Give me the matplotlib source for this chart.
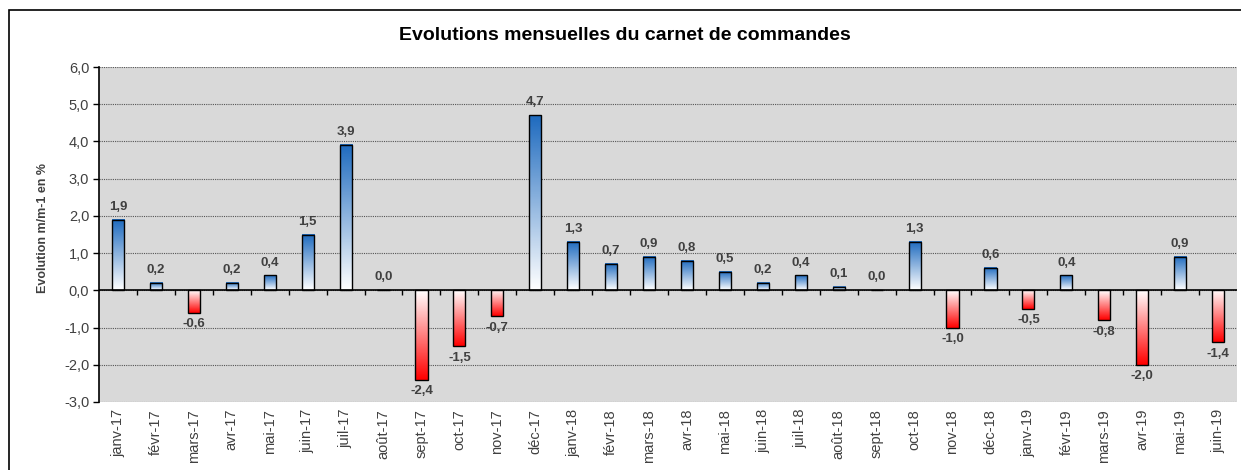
import matplotlib
matplotlib.use('Agg')
import matplotlib.pyplot as plt
import numpy as np
from matplotlib.colors import LinearSegmentedColormap
from matplotlib.patches import Rectangle

plt.rcParams['font.family'] = ['Liberation Sans', 'DejaVu Sans']

months = ['janv-17', 'févr-17', 'mars-17', 'avr-17', 'mai-17', 'juin-17', 'juil-17', 'août-17',
          'sept-17', 'oct-17', 'nov-17', 'déc-17', 'janv-18', 'févr-18', 'mars-18', 'avr-18',
          'mai-18', 'juin-18', 'juil-18', 'août-18', 'sept-18', 'oct-18', 'nov-18', 'déc-18',
          'janv-19', 'févr-19', 'mars-19', 'avr-19', 'mai-19', 'juin-19']
evolution = [1.9, 0.2, -0.6, 0.2, 0.4, 1.5, 3.9, 0.0, -2.4, -1.5, -0.7, 4.7, 1.3, 0.7, 0.9,
             0.8, 0.5, 0.2, 0.4, 0.1, 0.0, 1.3, -1.0, 0.6, -0.5, 0.4, -0.8, -2.0, 0.9, -1.4]
y_ticks = [-3, -2, -1, 0, 1, 2, 3, 4, 5, 6]

blue_cmap = LinearSegmentedColormap.from_list('blue', ['#ffffff', '#1f6bbf'])
red_cmap = LinearSegmentedColormap.from_list('red', ['#ffffff', '#ff0000'])
grey = '#404040'

fig = plt.figure(figsize=(12.41, 4.70), dpi=100)
ax = fig.add_axes([0.0798, 0.1447, 0.9170, 0.7127])
ax.set_facecolor('#d9d9d9')

# outer frame of the chart
fig.patches.append(Rectangle((9 / 1241, -0.1), 1.2, 1.1 - 10 / 470, transform=fig.transFigure,
                             fill=False, edgecolor='#000000', linewidth=1.2))

x = np.arange(len(months)) + 0.5
width = 0.32
grad = np.linspace(0, 1, 100).reshape(-1, 1)

for xi, v in zip(x, evolution):
    if v > 0:
        ax.imshow(grad, cmap=blue_cmap, origin='lower', aspect='auto',
                  extent=[xi - width / 2, xi + width / 2, 0, v], zorder=3)
    elif v < 0:
        ax.imshow(grad, cmap=red_cmap, origin='upper', aspect='auto',
                  extent=[xi - width / 2, xi + width / 2, v, 0], zorder=3)
ax.bar(x, evolution, width=width, fill=False, edgecolor='#000000', linewidth=1.0, zorder=4)

for xi, v in zip(x, evolution):
    txt = f'{v:.1f}'.replace('.', ',')
    if v >= 0:
        ax.annotate(txt, (xi, v), xytext=(0, 5), textcoords='offset points', ha='center',
                    va='bottom', fontsize=9.5, fontweight='bold', color=grey, zorder=5)
    else:
        ax.annotate(txt, (xi, v), xytext=(0, -4), textcoords='offset points', ha='center',
                    va='top', fontsize=9.5, fontweight='bold', color=grey, zorder=5)

ax.set_xlim(0, len(months))
ax.set_ylim(-3, 6)
ax.set_yticks(y_ticks)
ax.set_yticklabels([f'{t:.1f}'.replace('.', ',') for t in y_ticks], fontsize=10.5, color=grey)
ax.set_xticks(x)
ax.set_xticklabels(months, rotation=90, fontsize=10.5, color=grey)
ax.tick_params(axis='x', length=0, pad=5)
ax.tick_params(axis='y', length=4, width=1, direction='out', pad=3)

ax.grid(axis='y', linestyle=(0, (1, 1)), color='#555555', linewidth=0.8, zorder=1)
ax.set_axisbelow(True)
ax.axhline(0, color='#000000', linewidth=1.2, zorder=6)
ax.vlines(np.arange(1, len(months)), -0.12, 0, color='#000000', linewidth=1.0, zorder=6)

for side in ['top', 'right', 'bottom']:
    ax.spines[side].set_visible(False)
ax.spines['left'].set_linewidth(1.2)

ax.set_ylabel('Evolution m/m-1 en %', fontsize=9, fontweight='bold', color=grey)
ax.yaxis.set_label_coords(-0.044, 0.52)
fig.text(0.5035, 0.925, 'Evolutions mensuelles du carnet de commandes', ha='center', va='center',
         fontsize=14, fontweight='bold', color='#000000')

fig.savefig('out.png', dpi=100)
